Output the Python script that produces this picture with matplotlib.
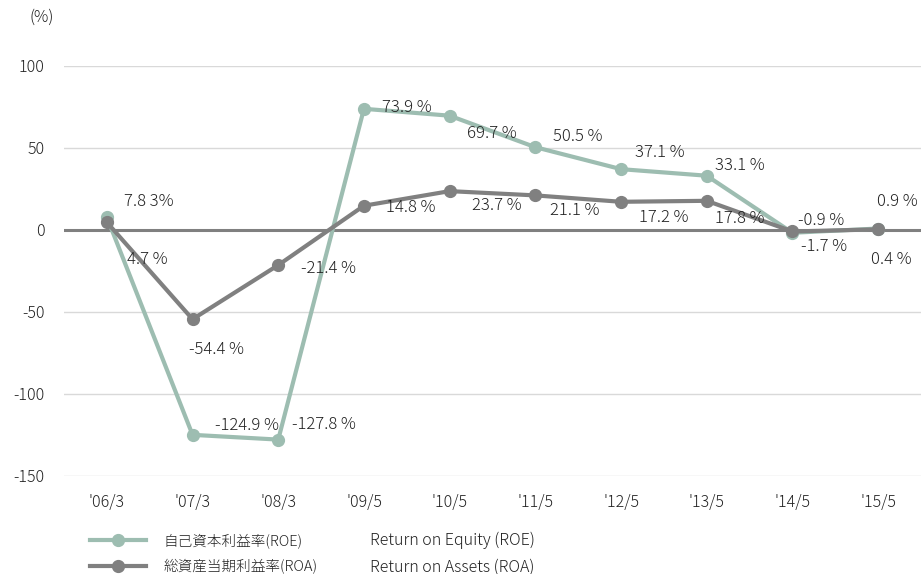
import matplotlib
matplotlib.use('Agg')
import matplotlib.pyplot as plt
from matplotlib.lines import Line2D

# ========================
# Data
# ========================
periods = ["'06/3", "'07/3", "'08/3", "'09/5", "'10/5", "'11/5", "'12/5", "'13/5", "'14/5", "'15/5"]
roe = [7.8, -124.9, -127.8, 73.9, 69.7, 50.5, 37.1, 33.1, -1.7, 0.9]
roa = [4.7, -54.4, -21.4, 14.8, 23.7, 21.1, 17.2, 17.8, -0.9, 0.4]
roeLabels = ['7.8 3%', '-124.9 %', '-127.8 %', '73.9 %', '69.7 %', '50.5 %', '37.1 %', '33.1 %', '-1.7 %', '0.9 %']
roaLabels = ['4.7 %', '-54.4 %', '-21.4 %', '14.8 %', '23.7 %', '21.1 %', '17.2 %', '17.8 %', '-0.9 %', '0.4 %']
yTicks = [100, 50, 0, -50, -100, -150]

# label offsets in pixels (dx, dy), dy up positive
roeOff = [(42, 16), (54, 9), (46, 15), (43, 1), (42, -18), (42, 11), (39, 17), (33, 10), (32, -14), (19, 27)]
roaOff = [(40, -37), (24, -30), (50, -3), (47, -2), (47, -14), (39, -15), (43, -16), (33, -18), (29, 11), (13, -30)]

cRoe = '#9dbdb1'
cRoa = '#808080'
cText = '#222222'

plt.rcParams['font.family'] = ['Noto Sans CJK JP', 'DejaVu Sans']
plt.rcParams['font.weight'] = 'light'
plt.rcParams['axes.unicode_minus'] = False

fig = plt.figure(figsize=(9.22, 5.74), dpi=100)
ax = fig.add_axes([64/922, 1-476/574, 857/922, 410/574])

x = list(range(len(periods)))
ax.set_xlim(-0.5, len(periods) - 0.5)
ax.set_ylim(-150, 100)

for t in yTicks:
    if t != 0:
        ax.axhline(t, color='#d9d9d9', lw=1, zorder=1)
ax.axhline(0, color=cRoa, lw=2.2, zorder=2)

ax.plot(x, roe, color=cRoe, lw=3, marker='o', ms=8.5, zorder=3)
ax.plot(x, roa, color=cRoa, lw=3, marker='o', ms=8.5, zorder=4)

for i in x:
    ax.annotate(roeLabels[i], (i, roe[i]), xytext=roeOff[i], textcoords='offset pixels',
                ha='center', va='center', fontsize=12, color=cText, zorder=5)
    ax.annotate(roaLabels[i], (i, roa[i]), xytext=roaOff[i], textcoords='offset pixels',
                ha='center', va='center', fontsize=12, color=cText, zorder=5)

ax.set_xticks(x)
ax.set_xticklabels(periods)
ax.set_yticks(yTicks)
ax.tick_params(length=0, labelsize=11.5, colors=cText)
ax.tick_params(axis='x', pad=13)
ax.tick_params(axis='y', pad=14)
for s in ax.spines.values():
    s.set_visible(False)

fig.text(42/922, 1-17/574, '(%)', ha='center', va='center', fontsize=11.5, color=cText)

handles = [Line2D([], [], color=cRoe, lw=3, marker='o', ms=8.5),
           Line2D([], [], color=cRoa, lw=3, marker='o', ms=8.5)]
fig.legend(handles, ['自己資本利益率(ROE)', '総資産当期利益率(ROA)'], loc='center left',
           bbox_to_anchor=(77/922, 1-554/574), frameon=False, fontsize=10.5,
           handlelength=3.8, handletextpad=1.2, labelspacing=0.75, labelcolor=cText)
fig.text(370/922, 1-540/574, 'Return on Equity (ROE)', ha='left', va='center', fontsize=11.5, color=cText)
fig.text(370/922, 1-567/574, 'Return on Assets (ROA)', ha='left', va='center', fontsize=11.5, color=cText)

fig.savefig('out.png', dpi=100)
